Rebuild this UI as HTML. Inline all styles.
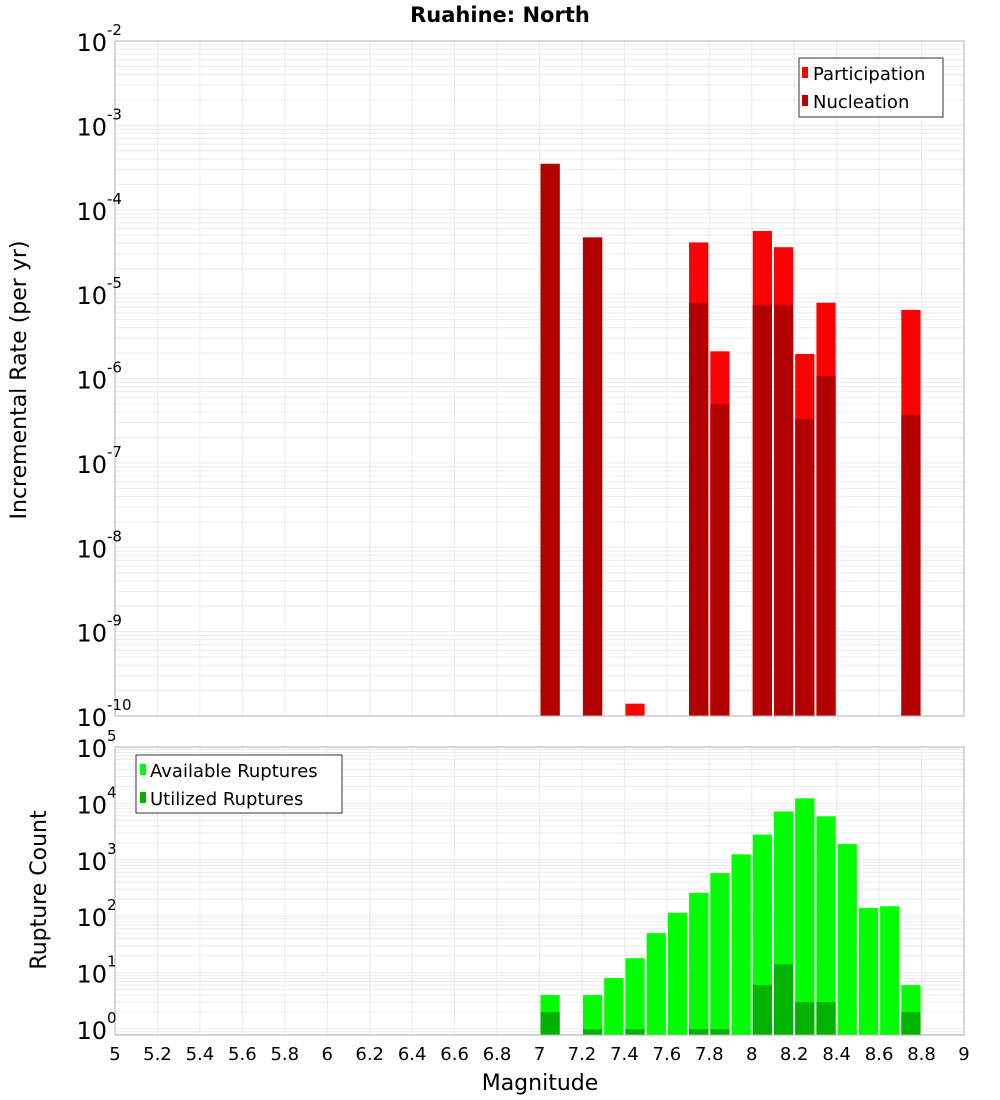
<!DOCTYPE html>
<html><head><meta charset="utf-8"><style>
body{margin:0;background:#fff;}
svg{display:block;font-family:"DejaVu Sans","Liberation Sans",sans-serif;}
</style></head><body>
<svg id="c" width="1000" height="1100">
<text x="500" y="22" text-anchor="middle" font-size="21" font-weight="bold">Ruahine: North</text>
<text transform="translate(26,380) rotate(-90)" text-anchor="middle" font-size="22">Incremental Rate (per yr)</text>
<text transform="translate(46,890) rotate(-90)" text-anchor="middle" font-size="22">Rupture Count</text>
<text x="540" y="1090" text-anchor="middle" font-size="22">Magnitude</text>
<g id="top"></g><g id="bot"></g>
<g>
<rect x="799" y="58" width="144" height="59" fill="#fff" stroke="#333"/>
<rect x="802" y="67" width="6" height="11" fill="#ff0000"/>
<text x="813" y="80" font-size="18">Participation</text>
<rect x="802" y="95" width="6" height="11" fill="#b30000"/>
<text x="813" y="108" font-size="18">Nucleation</text>
</g>
<g>
<rect x="136" y="755" width="206" height="58" fill="#fff" stroke="#333"/>
<rect x="140" y="764" width="6" height="11" fill="#00ff00"/>
<text x="150" y="777" font-size="18">Available Ruptures</text>
<rect x="140" y="792" width="6" height="11" fill="#00b300"/>
<text x="150" y="805" font-size="18">Utilized Ruptures</text>
</g>
</svg>
<script>
const topMags=[7.05,7.25,7.45,7.75,7.85,8.05,8.15,8.25,8.35,8.75];
const participation=[3.5e-4,4.7e-5,1.4e-10,4.1e-5,2.1e-6,5.6e-5,3.6e-5,1.95e-6,7.9e-6,6.5e-6];
const nucleation=[3.5e-4,4.7e-5,0,7.9e-6,5.0e-7,7.4e-6,7.4e-6,3.3e-7,1.07e-6,3.7e-7];
const botMags=[7.05,7.25,7.35,7.45,7.55,7.65,7.75,7.85,7.95,8.05,8.15,8.25,8.35,8.45,8.55,8.65,8.75];
const available=[4,4,8,18,50,115,260,580,1250,2800,7200,12300,5900,1900,140,150,6];
const utilized=[2,1,0,1,0,0,1,1,0,6,14,3,3,0,0,0,2];
const xTicks=[5,5.2,5.4,5.6,5.8,6,6.2,6.4,6.6,6.8,7,7.2,7.4,7.6,7.8,8,8.2,8.4,8.6,8.8,9];
const topExps=[-2,-3,-4,-5,-6,-7,-8,-9,-10];
const botExps=[5,4,3,2,1,0];
const NS="http://www.w3.org/2000/svg";
const X0=115,X1=964;
const x=m=>X0+(m-5)/4*(X1-X0);
const yTop=v=>41+(-2-Math.log10(v))*(716-41)/8;
const yBot=v=>747+(5-Math.log10(v))*56.4;
function mk(p,t,a){const e=document.createElementNS(NS,t);for(const k in a)e.setAttribute(k,a[k]);p.appendChild(e);return e;}
function panel(g,y0,y1,lo,hi,ys,name){
  mk(g,'rect',{x:X0,y:y0,width:X1-X0,height:y1-y0,fill:'#fff'});
  for(let e=lo;e<hi;e++)for(let k=1;k<10;k++){const yy=ys(k*Math.pow(10,e));if(yy>y0&&yy<y1)mk(g,'line',{x1:X0,x2:X1,y1:yy,y2:yy,stroke:'#ececec','stroke-width':1});}
  xTicks.forEach(t=>mk(g,'line',{x1:x(t),x2:x(t),y1:y0,y2:y1,stroke:'#ececec'}));
}
const tg=document.getElementById('top'),bg=document.getElementById('bot');
panel(tg,41,716,-10,-2,yTop);
panel(bg,747,1035,-1,5,yBot);
const bw=(X1-X0)/40;
topMags.forEach((m,i)=>{
  const l=x(m-0.05)+1;
  const r=mk(tg,'rect',{x:l,y:yTop(participation[i]),width:bw-2,height:716-yTop(participation[i]),fill:'#ff0000'});
  
  
  if(nucleation[i]>0){const n=mk(tg,'rect',{x:l,y:yTop(nucleation[i]),width:bw-2,height:716-yTop(nucleation[i]),fill:'#b30000'});
  
  }
});
botMags.forEach((m,i)=>{
  const l=x(m-0.05)+1;
  const r=mk(bg,'rect',{x:l,y:yBot(available[i]),width:bw-2,height:1035-yBot(available[i]),fill:'#00ff00'});
  
  
  if(utilized[i]>0){const n=mk(bg,'rect',{x:l,y:yBot(utilized[i]),width:bw-2,height:1035-yBot(utilized[i]),fill:'#00b300'});
  
  }
});
mk(tg,'rect',{x:X0,y:41,width:X1-X0,height:675,fill:'none',stroke:'#b0b0b0'});
mk(bg,'rect',{x:X0,y:747,width:X1-X0,height:288,fill:'none',stroke:'#b0b0b0'});
function ylab(g,e,yy){
  const t=mk(g,'text',{x:107,y:yy+10,'text-anchor':'end','font-size':24});
  
  
  t.textContent='10';
  const s=mk(g,'text',{x:107,y:yy-6,'font-size':15});
  s.textContent=String(e);
}
topExps.forEach(e=>ylab(tg,e,yTop(Math.pow(10,e))));
botExps.forEach(e=>ylab(bg,e,yBot(Math.pow(10,e))));
xTicks.forEach(t=>{
  const el=mk(bg,'text',{x:x(t),y:1060,'text-anchor':'middle','font-size':18});
  
  
  el.textContent=String(t);
});
</script>
</body></html>
